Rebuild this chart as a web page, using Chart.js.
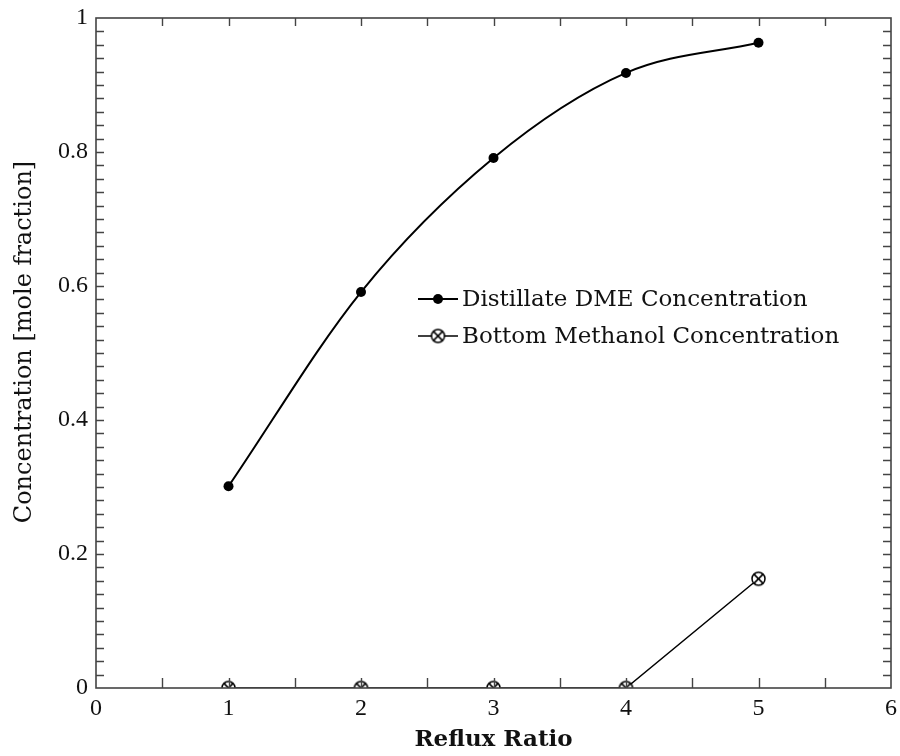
<!DOCTYPE html>
<html>
<head>
<meta charset="utf-8">
<script src="https://cdn.jsdelivr.net/npm/chart.js@4"></script>
<style>
  html, body { margin: 0; padding: 0; background: #fff; }
  #wrap { width: 900px; height: 756px; }
</style>
</head>
<body>
<div id="wrap"><canvas id="chart" width="900" height="756"></canvas></div>
<script>
// reflux ratio vs. product purity
const refluxRatio = [1, 2, 3, 4, 5];
const distillateDME = [0.301, 0.591, 0.791, 0.918, 0.963];
const bottomMethanol = [0, 0, 0, 0, 0.163];
const seriesNames = ['Distillate DME Concentration', 'Bottom Methanol Concentration'];
const xTitle = 'Reflux Ratio';
const yTitle = 'Concentration [mole fraction]';

const serif = '"Liberation Serif", "DejaVu Serif", serif';
const wideSerif = '"DejaVu Serif", "Liberation Serif", serif';

// circle with an x through it
function crossedCircle(r) {
    const c = document.createElement('canvas');
    const s = Math.ceil(r * 2 + 4);
    c.width = s; c.height = s;
    const g = c.getContext('2d');
    const m = s / 2;
    g.strokeStyle = '#000';
    g.lineWidth = 1.5;
    g.fillStyle = '#fff';
    g.beginPath();
    g.arc(m, m, r, 0, Math.PI * 2);
    g.fill();
    g.stroke();
    const d = r * Math.SQRT1_2;
    g.beginPath();
    g.moveTo(m - d, m - d); g.lineTo(m + d, m + d);
    g.moveTo(m + d, m - d); g.lineTo(m - d, m + d);
    g.stroke();
    return c;
}
const xMarker = crossedCircle(6.5);

// inward ticks on all four sides, frame, titles and legend
const framePlugin = {
    id: 'frame',
    afterDraw(chart) {
        const ctx = chart.ctx;
        const a = chart.chartArea;
        const xs = chart.scales.x, ys = chart.scales.y;
        ctx.save();
        ctx.strokeStyle = '#444';
        ctx.lineWidth = 1.6;
        ctx.strokeRect(a.left, a.top, a.right - a.left, a.bottom - a.top);

        ctx.lineWidth = 1.4;
        ctx.beginPath();
        for (let i = 1; i < 12; i++) {
            const px = Math.round(xs.getPixelForValue(i * 0.5)) + 0.5;
            ctx.moveTo(px, a.bottom); ctx.lineTo(px, a.bottom - 10);
            ctx.moveTo(px, a.top); ctx.lineTo(px, a.top + 8);
        }
        for (let i = 1; i < 50; i++) {
            const py = Math.round(ys.getPixelForValue(i * 0.02)) + 0.5;
            ctx.moveTo(a.left, py); ctx.lineTo(a.left + 8, py);
            ctx.moveTo(a.right, py); ctx.lineTo(a.right - 8, py);
        }
        ctx.stroke();

        // axis titles
        ctx.fillStyle = '#111';
        ctx.textAlign = 'center';
        ctx.textBaseline = 'middle';
        ctx.font = 'bold 23px ' + wideSerif;
        ctx.fillText(xTitle, (a.left + a.right) / 2, 740);
        ctx.save();
        ctx.translate(25, 342);
        ctx.rotate(-Math.PI / 2);
        ctx.font = '24px ' + wideSerif;
        ctx.fillText(yTitle, 0, 0);
        ctx.restore();

        // legend
        const rows = [299, 336];
        chart.data.datasets.forEach((ds, i) => {
            const y = rows[i];
            ctx.strokeStyle = ds.borderColor;
            ctx.lineWidth = ds.borderWidth;
            ctx.beginPath();
            ctx.moveTo(418, y); ctx.lineTo(458, y);
            ctx.stroke();
            if (ds.pointStyle === 'circle') {
                ctx.fillStyle = ds.pointBackgroundColor;
                ctx.beginPath();
                ctx.arc(438, y, ds.pointRadius, 0, Math.PI * 2);
                ctx.fill();
            } else {
                ctx.drawImage(ds.pointStyle, 438 - ds.pointStyle.width / 2, y - ds.pointStyle.height / 2);
            }
            ctx.fillStyle = '#111';
            ctx.textAlign = 'left';
            ctx.font = '23px ' + wideSerif;
            ctx.fillText(ds.label, 462, y + 1);
        });
        ctx.restore();
    }
};

new Chart(document.getElementById('chart'), {
    type: 'line',
    data: {
        datasets: [{
            label: seriesNames[0],
            data: refluxRatio.map((x, i) => ({ x: x, y: distillateDME[i] })),
            borderColor: '#000',
            borderWidth: 2,
            cubicInterpolationMode: 'monotone',
            pointStyle: 'circle',
            pointRadius: 5,
            pointBackgroundColor: '#000',
            pointBorderWidth: 0
        }, {
            label: seriesNames[1],
            data: refluxRatio.map((x, i) => ({ x: x, y: bottomMethanol[i] })),
            borderColor: '#000',
            borderWidth: 1.5,
            tension: 0,
            pointStyle: xMarker,
            pointRadius: 7
        }]
    },
    options: {
        responsive: false,
        animation: false,
        layout: { padding: { top: 18, right: 9, left: 0, bottom: 0 } },
        plugins: {
            legend: { display: false },
            tooltip: { enabled: false }
        },
        scales: {
            x: {
                type: 'linear',
                min: 0, max: 6,
                grid: { display: false, drawTicks: false },
                border: { display: false },
                ticks: {
                    stepSize: 1,
                    padding: 6,
                    color: '#111',
                    font: { family: serif, size: 24 }
                },
                afterFit(scale) {
                    scale.height = 68;
                    scale.paddingLeft = 0;
                    scale.paddingRight = 0;
                }
            },
            y: {
                min: 0, max: 1,
                grid: { display: false, drawTicks: false },
                border: { display: false },
                ticks: {
                    stepSize: 0.2,
                    padding: 8,
                    color: '#111',
                    font: { family: serif, size: 24 },
                    callback: v => String(Math.round(v * 10) / 10)
                },
                afterFit(scale) {
                    scale.width = 96;
                    scale.paddingTop = 0;
                    scale.paddingBottom = 0;
                }
            }
        }
    },
    plugins: [framePlugin]
});
</script>
</body>
</html>
